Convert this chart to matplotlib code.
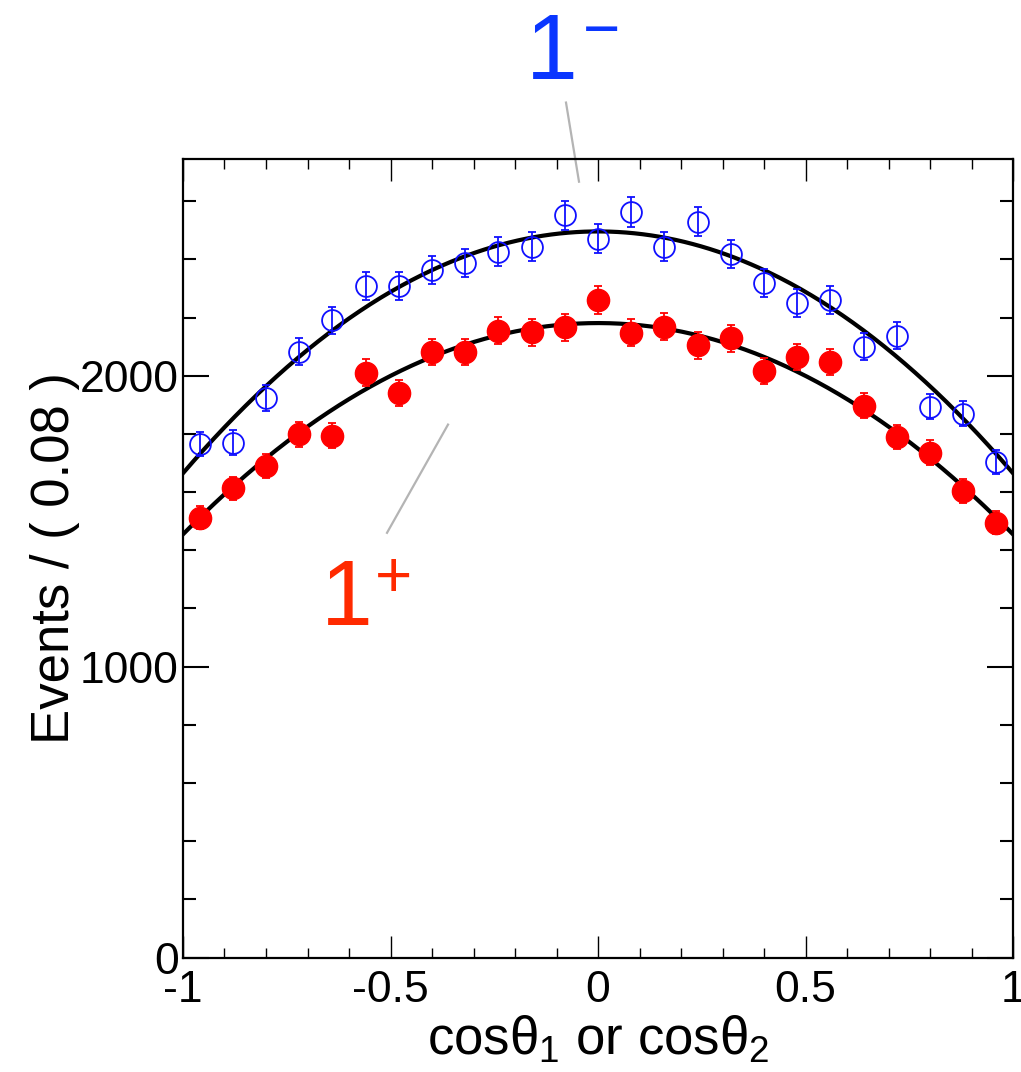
import numpy as np
import matplotlib
matplotlib.use("Agg")
import matplotlib.pyplot as plt
from matplotlib.ticker import MultipleLocator

plt.rcParams['font.family'] = ['Liberation Sans', 'DejaVu Sans']
plt.rcParams['mathtext.fontset'] = 'custom'
plt.rcParams['mathtext.rm'] = 'Liberation Sans'
plt.rcParams['mathtext.it'] = 'Liberation Sans'

# bin centres of cos(theta), bin width 0.08
cos_theta = np.arange(-0.96, 0.97, 0.08)

# 1- hypothesis (open blue circles)
events_minus = [1765, 1770, 1923, 2083, 2190, 2309, 2307, 2364, 2387, 2427, 2444, 2551, 2471,
                2563, 2444, 2530, 2419, 2318, 2250, 2261, 2100, 2137, 1894, 1869, 1705]
# 1+ hypothesis (filled red circles)
events_plus = [1512, 1613, 1690, 1799, 1794, 2011, 1940, 2081, 2081, 2154, 2150, 2166, 2261,
               2147, 2169, 2104, 2129, 2017, 2064, 2047, 1897, 1789, 1736, 1604, 1495]

# fitted curves: N * (1 - c * cos^2)
fit_norm_minus = 2496
fit_norm_plus = 2181
fit_curv = 0.333

err_minus = np.sqrt(events_minus)
err_plus = np.sqrt(events_plus)

W, H = 1021, 1072
fig = plt.figure(figsize=(W / 100, H / 100), dpi=100)
ax = fig.add_axes([183 / W, 1 - 957.5 / H, 830 / W, (957.5 - 159) / H])

xs = np.linspace(-1, 1, 400)
ax.plot(xs, fit_norm_minus * (1 - fit_curv * xs ** 2), color='black', lw=3.0, zorder=3)
ax.plot(xs, fit_norm_plus * (1 - fit_curv * xs ** 2), color='black', lw=3.0, zorder=3)

ax.errorbar(cos_theta, events_minus, yerr=err_minus, fmt='o', ms=15, mfc='none',
            mec='#1010ff', mew=1.3, ecolor='#1010ff', elinewidth=1.3, capsize=3,
            capthick=1.3, zorder=4)
ax.errorbar(cos_theta, events_plus, yerr=err_plus, fmt='o', ms=16, mfc='#ff0000',
            mec='#ff0000', ecolor='#ff0000', elinewidth=1.3, capsize=3,
            capthick=1.3, zorder=4)

ax.set_xlim(-1, 1)
ax.set_ylim(0, 2745)
ax.xaxis.set_major_locator(MultipleLocator(0.5))
ax.xaxis.set_minor_locator(MultipleLocator(0.1))
ax.yaxis.set_major_locator(MultipleLocator(1000))
ax.yaxis.set_minor_locator(MultipleLocator(200))
ax.set_xticks([-1, -0.5, 0, 0.5, 1])
ax.set_xticklabels(['-1', '-0.5', '0', '0.5', '1'])

ax.tick_params(axis='both', which='both', direction='in', top=True, right=True,
               labelsize=32)
ax.tick_params(axis='x', which='major', length=16, width=1.0, pad=9)
ax.tick_params(axis='x', which='minor', length=7.5, width=1.0)
ax.tick_params(axis='y', which='major', length=19, width=1.5, pad=3)
ax.tick_params(axis='y', which='minor', length=9.5, width=1.5)
for s in ax.spines.values():
    s.set_linewidth(1.6)

ax.set_xlabel('cosθ$_1$ or cosθ$_2$', fontsize=38, labelpad=2)
ax.set_ylabel('Events / ( 0.08 )', fontsize=38, labelpad=0)

# labels for the two hypotheses
fig.text(526 / W, 1 - 79 / H, '1', color='#0a36ff', fontsize=67, va='baseline', ha='left')
fig.text(601 / W, 1 - 50 / H, '\u2212', color='#0a36ff', fontsize=46, va='baseline', ha='center')
fig.text(321 / W, 1 - 625 / H, '1', color='#ff2a00', fontsize=67, va='baseline', ha='left')
fig.text(394 / W, 1 - 597 / H, '+', color='#ff2a00', fontsize=46, va='baseline', ha='center')

ax.plot([-0.0771, -0.0458], [2939, 2667], color='#b4b4b4', lw=1.6, clip_on=False)
ax.plot([-0.3614, -0.5084], [1832, 1460], color='#b4b4b4', lw=1.6, clip_on=False)

fig.savefig('out.png', dpi=100)
